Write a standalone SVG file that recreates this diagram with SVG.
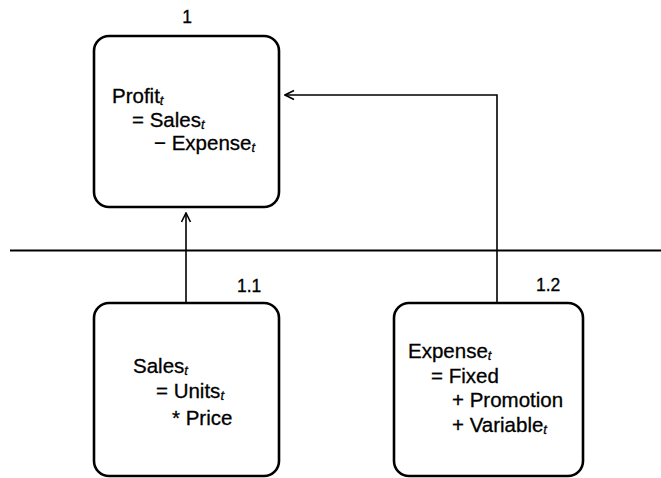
<svg xmlns="http://www.w3.org/2000/svg" width="661" height="478" viewBox="0 0 661 478">
  <style>
    .box { fill: #fff; stroke: #000; stroke-width: 2.6; }
    .txt { font-family: "Liberation Sans", Arial, sans-serif; font-size: 20.5px; fill: #000; stroke: #000; stroke-width: 0.3; }
    .lbl { font-family: "Liberation Sans", Arial, sans-serif; font-size: 17.5px; fill: #000; stroke: #000; stroke-width: 0.3; }
    .sub { font-style: italic; font-size: 13px; }
    .wire { fill: none; stroke: #000; stroke-width: 1.6; }
    .rule { fill: none; stroke: #000; stroke-width: 2.2; }
  </style>
  <defs>
    <marker id="arrow" viewBox="0 0 12 12" refX="11" refY="6" markerWidth="12" markerHeight="12" markerUnits="userSpaceOnUse" orient="auto">
      <path d="M2,1.5 L11,6 L2,10.5" fill="none" stroke="#000" stroke-width="1.6"/>
    </marker>
  </defs>

  <!-- level divider -->
  <line class="rule" x1="10" y1="250.5" x2="661" y2="250.5"/>

  <!-- connectors -->
  <g id="connectors">
    <path class="wire" d="M186,303 L186,213" marker-end="url(#arrow)"/>
    <path class="wire" d="M497,303 L497,95 L285,95" marker-end="url(#arrow)"/>
  </g>

  <!-- node 1 -->
  <g id="node-1">
    <rect class="box" x="94" y="36" width="185" height="171" rx="15" ry="15"/>
    <text class="lbl" x="187" y="23" text-anchor="middle">1</text>
    <text class="txt" x="112" y="103">Profit<tspan class="sub" dy="2">t</tspan></text>
    <text class="txt" x="132" y="126.5">= Sales<tspan class="sub" dy="2">t</tspan></text>
    <text class="txt" x="154" y="150">− Expense<tspan class="sub" dy="2">t</tspan></text>
  </g>

  <!-- node 1.1 -->
  <g id="node-1-1">
    <rect class="box" x="94" y="303" width="185" height="173" rx="15" ry="15"/>
    <text class="lbl" x="237" y="292">1.1</text>
    <text class="txt" x="133" y="373">Sales<tspan class="sub" dy="2">t</tspan></text>
    <text class="txt" x="156" y="398">= Units<tspan class="sub" dy="2">t</tspan></text>
    <text class="txt" x="172" y="425">* Price</text>
  </g>

  <!-- node 1.2 -->
  <g id="node-1-2">
    <rect class="box" x="394" y="303" width="189" height="173" rx="15" ry="15"/>
    <text class="lbl" x="536" y="291">1.2</text>
    <text class="txt" x="408" y="358">Expense<tspan class="sub" dy="2">t</tspan></text>
    <text class="txt" x="431" y="383">= Fixed</text>
    <text class="txt" x="452" y="407">+ Promotion</text>
    <text class="txt" x="452" y="432">+ Variable<tspan class="sub" dy="2">t</tspan></text>
  </g>
</svg>
